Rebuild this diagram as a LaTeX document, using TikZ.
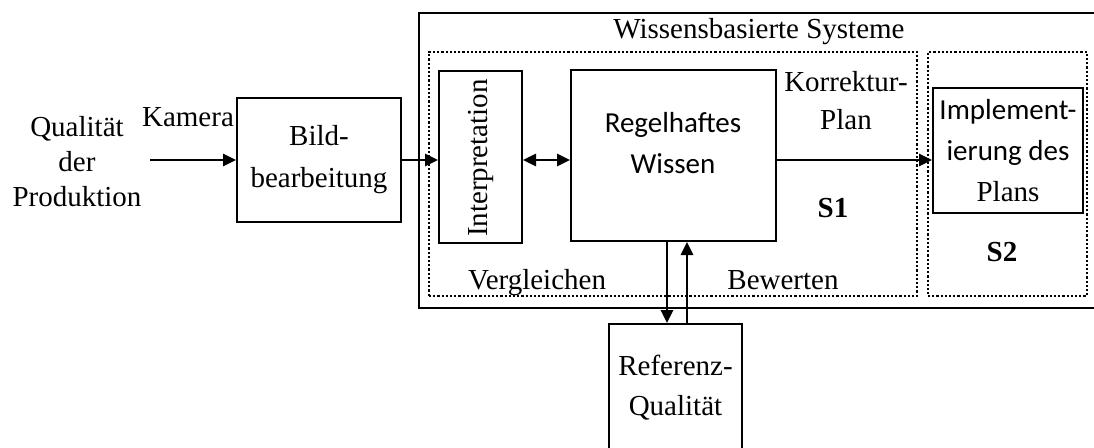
\documentclass[tikz,border=0pt]{standalone}
\usepackage{fontspec}
\setmainfont{Liberation Serif}
\newfontfamily\calfont{Carlito}
\usetikzlibrary{arrows.meta}

\begin{document}
\begin{tikzpicture}[
  x=0.5pt, y=-0.5pt,
  font=\fontsize{14.5}{20.5}\selectfont,
  box/.style={draw, line width=1pt, inner sep=0pt, align=center},
  dotbox/.style={draw, line width=1.4pt, dash pattern=on 1.1pt off 1pt, inner sep=0pt},
  txt/.style={inner sep=0pt, align=center},
  arr/.style={line width=1pt, -{Triangle[length=6.5pt, width=6.2pt]}},
  dbl/.style={line width=1pt, {Triangle[length=6.5pt, width=6.2pt]}-{Triangle[length=6.5pt, width=6.2pt]}}
]
\useasboundingbox (0,0) rectangle (1094,447);

% frame of the knowledge-based system and its two sections
\node[box, minimum width=340.5pt, minimum height=147.5pt] (sys) at (759.5,160.5) {};
\node[txt] (title) at (759,32) {Wissensbasierte Systeme};
\node[dotbox, minimum width=244pt, minimum height=122pt] (s1box) at (673,174) {};
\node[dotbox, minimum width=79.5pt, minimum height=122pt] (s2box) at (1007.5,174) {};

% input side
\node[txt, font=\fontsize{14.5}{17.5}\selectfont] (qual) at (77,162) {Qualität\\der\\Produktion};
\node[txt] (kamera) at (188,117) {Kamera};
\coordinate (cam) at (150,160);
\node[box, minimum width=82pt, minimum height=62pt, font=\fontsize{14.5}{21}\selectfont] (bild) at (319,160) {Bild-\\bearbeitung};

% processing blocks
\node[box, minimum width=41.5pt, minimum height=86pt] (interp) at (480.5,157) {};
\node[txt, rotate=90] (interptext) at (480.5,158) {Interpretation};
\node[box, minimum width=102.5pt, minimum height=85.5pt] (regel) at (673.5,155.5) {};
\node[txt, font=\calfont\fontsize{14.5}{20.5}\selectfont] (regeltext) at (673,143) {Regelhaftes\\Wissen};
\node[txt, font=\fontsize{14.5}{19}\selectfont] (korr) at (846,101) {Korrektur-\\Plan};
\node[txt, font=\bfseries\fontsize{14.5}{20}\selectfont] (s1) at (833,208) {S1};
\node[txt, anchor=base] (vergl) at (537,289) {Vergleichen};
\node[txt, anchor=base] (bew) at (783,289) {Bewerten};

% implementation section
\node[box, minimum width=75pt, minimum height=62.5pt, font=\calfont\fontsize{14.5}{20.5}\selectfont] (impl) at (1008,150.5) {Implement-\\ierung des\\\fontspec{Liberation Serif}Plans};
\node[txt, font=\bfseries\fontsize{14.5}{20}\selectfont] (s2) at (1002,252) {S2};

% reference quality
\node[box, minimum width=66.5pt, minimum height=64pt, font=\fontsize{14.5}{20}\selectfont] (ref) at (675.5,388) {Referenz-\\Qualität};

% connectors
\draw[arr] (cam) -- (bild.west);
\draw[arr] (bild.east) -- (bild.east -| interp.west);
\draw[dbl] (bild.east -| interp.east) -- (bild.east -| regel.west);
\draw[arr] (bild.east -| regel.east) -- (bild.east -| impl.west);
\coordinate (down) at ([xshift=-3.25pt]regel.south);
\coordinate (up) at ([xshift=6.75pt]regel.south);
\draw[arr] (down) -- (down |- ref.north);
\draw[arr] (up |- ref.north) -- (up);
\end{tikzpicture}
\end{document}
